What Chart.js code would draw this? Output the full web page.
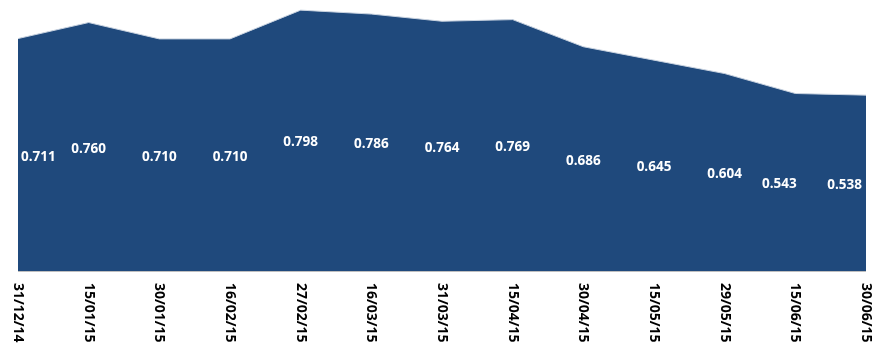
<!DOCTYPE html>
<html>
<head>
<meta charset="utf-8">
<script src="https://cdn.jsdelivr.net/npm/chart.js@4"></script>
<style>
    html, body { margin: 0; padding: 0; background: #ffffff; }
    #wrap { width: 874px; height: 344px; position: relative; }
</style>
</head>
<body>
<div id="wrap"><canvas id="ratioChart"></canvas></div>
<script>
const dates = ['31/12/14', '15/01/15', '30/01/15', '16/02/15', '27/02/15', '16/03/15', '31/03/15',
               '15/04/15', '30/04/15', '15/05/15', '29/05/15', '15/06/15', '30/06/15'];
const ratios = [0.711, 0.760, 0.710, 0.710, 0.798, 0.786, 0.764, 0.769, 0.686, 0.645, 0.604, 0.543, 0.538];

const areaColor = '#1f497c';

// value labels sit halfway up the area, kept inside the plot
const valueLabels = {
    id: 'valueLabels',
    afterDatasetsDraw(chart) {
        const ctx = chart.ctx;
        const x = chart.scales.x;
        const y = chart.scales.y;
        const area = chart.chartArea;
        ctx.save();
        ctx.font = 'bold 13.5px "Open Sans"';
        ctx.fillStyle = '#ffffff';
        ctx.textBaseline = 'middle';
        ctx.textAlign = 'center';
        ratios.forEach(function(v, i) {
            const text = v.toFixed(3);
            const w = ctx.measureText(text).width;
            let px = x.getPixelForValue(i);
            px = Math.max(area.left + 3 + w / 2, Math.min(area.right - 4 - w / 2, px));
            // the second-to-last label is nudged left so it clears the last one
            if (i === ratios.length - 2) {
                px -= 16;
            }
            const py = y.getPixelForValue(v / 2) + 2;
            ctx.fillText(text, px, py);
        });
        ctx.restore();
    }
};

// baseline and the date labels, turned to read top to bottom
const dateAxis = {
    id: 'dateAxis',
    afterDraw(chart) {
        const ctx = chart.ctx;
        const x = chart.scales.x;
        const area = chart.chartArea;
        ctx.save();
        ctx.strokeStyle = '#bfbfbf';
        ctx.lineWidth = 1;
        ctx.beginPath();
        ctx.moveTo(area.left, area.bottom + 0.5);
        ctx.lineTo(area.right, area.bottom + 0.5);
        ctx.stroke();

        ctx.font = 'bold 14px "Open Sans"';
        ctx.fillStyle = '#000000';
        ctx.textAlign = 'left';
        ctx.textBaseline = 'middle';
        dates.forEach(function(d, i) {
            ctx.save();
            ctx.translate(x.getPixelForValue(i), area.bottom + 12);
            ctx.rotate(Math.PI / 2);
            ctx.fillText(d, 0, 0);
            ctx.restore();
        });
        ctx.restore();
    }
};

const ctx = document.getElementById('ratioChart').getContext('2d');
const ratioChart = new Chart(ctx, {
    type: 'line',
    data: {
        labels: dates,
        datasets: [{
            data: ratios,
            fill: 'origin',
            backgroundColor: areaColor,
            borderColor: '#c9d3e0',
            borderWidth: 1,
            pointRadius: 0,
            tension: 0
        }]
    },
    options: {
        responsive: true,
        maintainAspectRatio: false,
        animation: false,
        layout: {
            padding: { left: 18, right: 8, top: 0, bottom: 73 }
        },
        scales: {
            x: { display: false, offset: false },
            y: { display: false, min: 0, max: 0.829 }
        },
        plugins: {
            legend: { display: false },
            tooltip: { enabled: false }
        }
    },
    plugins: [valueLabels, dateAxis]
});
</script>
</body>
</html>
